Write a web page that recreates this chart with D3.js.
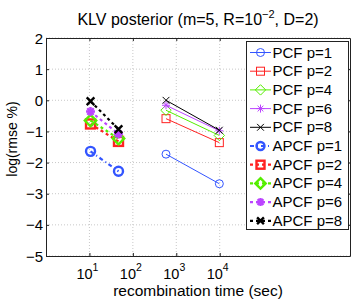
<!DOCTYPE html>
<html>
<head>
<meta charset="utf-8">
<script src="https://cdn.jsdelivr.net/npm/d3@7"></script>
<style>
body { margin: 0; background: #fff; }
text { font-family: "Liberation Sans", Arial, sans-serif; }
</style>
</head>
<body>
<script>
// data
var pValues = ["p=1", "p=2", "p=4", "p=6", "p=8"];
var colors = ["#3355ff", "#ff2222", "#55ee00", "#bb44ff", "#000000"];
var markers = ["circle", "square", "diamond", "star", "cross"];
var pcfTime = [580, 9800];
var apcfTime = [10.6, 46.7];
var pcfVals = [[-1.73, -2.68], [-0.59, -1.36], [-0.32, -1.13], [-0.16, -0.98], [0, -0.96]];
var apcfVals = [[-1.64, -2.28], [-0.76, -1.32], [-0.65, -1.23], [-0.36, -1.08], [-0.03, -0.93]];
var xTicks = [10, 100, 1000, 10000];
var yTicks = [-5, -4, -3, -2, -1, 0, 1, 2];

var margin = {top: 38, right: 7, bottom: 44, left: 46};
var width = 357 - margin.left - margin.right;
var height = 300 - margin.top - margin.bottom;

var xScale = d3.scaleLog().domain([1, 1e7]).range([0, width]);
var yScale = d3.scaleLinear().domain([-5, 2]).range([height, 0]);

var svg = d3.select("body").append("svg")
.attr("width", 357)
.attr("height", 300);

var g = svg.append("g")
.attr("transform", "translate(" + margin.left + "," + margin.top + ")");

// grid
g.selectAll(".vgrid").data(xTicks).enter().append("line")
.attr("x1", function(d){return xScale(d)}).attr("x2", function(d){return xScale(d)})
.attr("y1", 0).attr("y2", height)
.attr("stroke", "#c8c8c8").attr("stroke-width", 1).attr("stroke-dasharray", "1,2");
g.selectAll(".hgrid").data(yTicks).enter().append("line")
.attr("x1", 0).attr("x2", width)
.attr("y1", function(d){return yScale(d)}).attr("y2", function(d){return yScale(d)})
.attr("stroke", "#c8c8c8").attr("stroke-width", 1).attr("stroke-dasharray", "1,2");

// axes (ticks inward, box all round)
var xAxis = d3.axisBottom(xScale).tickValues(xTicks).tickSizeInner(-3).tickSizeOuter(0).tickFormat("");
g.append("g").attr("transform", "translate(0," + height + ")").call(xAxis);
g.append("g").call(d3.axisTop(xScale).tickValues(xTicks).tickSizeInner(-3).tickSizeOuter(0).tickFormat(""));
var yAxis = d3.axisLeft(yScale).tickValues(yTicks).tickSizeInner(-3).tickSizeOuter(0).tickFormat("");
g.append("g").call(yAxis);
g.append("g").attr("transform", "translate(" + width + ",0)")
.call(d3.axisRight(yScale).tickValues(yTicks).tickSizeInner(-3).tickSizeOuter(0).tickFormat(""));
g.selectAll(".domain").attr("stroke", "#222");
g.selectAll(".tick line").attr("stroke", "#222");

// tick labels
g.selectAll(".ylab").data(yTicks).enter().append("text")
.attr("x", -3).attr("y", function(d){return yScale(d) + 5.5})
.attr("text-anchor", "end").attr("font-size", 15)
.text(function(d){return d < 0 ? "\u2212" + Math.abs(d) : d});

var xl = g.selectAll(".xlab").data(xTicks).enter().append("text")
.attr("x", function(d){return xScale(d) - 2}).attr("y", height + 23)
.attr("text-anchor", "middle").attr("font-size", 14.5);
xl.append("tspan").text("10");
xl.append("tspan").attr("dy", -8).attr("font-size", 10.5).text(function(d){return Math.round(Math.log10(d))});

// titles
svg.append("text").attr("x", margin.left + width / 2).attr("y", 25)
.attr("text-anchor", "middle").attr("font-size", 16)
.html("KLV posterior (m=5, R=10<tspan dy='-7' font-size='11'>\u22122</tspan><tspan dy='7'>, D=2)</tspan>");
svg.append("text").attr("x", margin.left + width / 2) .attr("y", 296)
.attr("text-anchor", "middle").attr("font-size", 15.5)
.text("recombination time (sec)");
svg.append("text").attr("transform", "translate(17,139) rotate(-90)")
.attr("text-anchor", "middle").attr("font-size", 14)
.text("log(rmse %)");

function drawMarker(sel, type, x, y, color, sw, s) {
	if (type == "circle") {
		sel.append("circle").attr("cx", x).attr("cy", y).attr("r", s)
		.attr("fill", "none").attr("stroke", color).attr("stroke-width", sw);
	} else if (type == "square") {
		sel.append("rect").attr("x", x - s).attr("y", y - s).attr("width", 2 * s).attr("height", 2 * s)
		.attr("fill", "none").attr("stroke", color).attr("stroke-width", sw);
	} else if (type == "diamond") {
		var d = s + 1.2;
		sel.append("path").attr("d", "M" + x + "," + (y - d) + "L" + (x + d) + "," + y + "L" + x + "," + (y + d) + "L" + (x - d) + "," + y + "Z")
		.attr("fill", "none").attr("stroke", color).attr("stroke-width", sw);
	} else if (type == "star") {
		var q = s * 0.72;
		var p = "M" + (x - s) + "," + y + "H" + (x + s) + "M" + x + "," + (y - s) + "V" + (y + s) +
			"M" + (x - q) + "," + (y - q) + "L" + (x + q) + "," + (y + q) + "M" + (x - q) + "," + (y + q) + "L" + (x + q) + "," + (y - q);
		sel.append("path").attr("d", p).attr("fill", "none").attr("stroke", color).attr("stroke-width", sw);
	} else {
		var c = s * 0.85;
		sel.append("path").attr("d", "M" + (x - c) + "," + (y - c) + "L" + (x + c) + "," + (y + c) + "M" + (x - c) + "," + (y + c) + "L" + (x + c) + "," + (y - c))
		.attr("fill", "none").attr("stroke", color).attr("stroke-width", sw);
	}
}

var line = d3.line().x(function(d){return xScale(d[0])}).y(function(d){return yScale(d[1])});

// PCF: thin solid
for (var i = 0; i < pValues.length; i++) {
	var pts = pcfTime.map(function(t, j){return [t, pcfVals[i][j]]});
	g.append("path").attr("d", line(pts)).attr("fill", "none").attr("stroke", colors[i]).attr("stroke-width", 1);
	for (var j = 0; j < pts.length; j++) drawMarker(g, markers[i], xScale(pts[j][0]), yScale(pts[j][1]), colors[i], 1, 4);
}
// APCF: thick dashed
for (var i = 0; i < pValues.length; i++) {
	var pts = apcfTime.map(function(t, j){return [t, apcfVals[i][j]]});
	g.append("path").attr("d", line(pts)).attr("fill", "none").attr("stroke", colors[i]).attr("stroke-width", 2.2)
	.attr("stroke-dasharray", i == 0 ? "4,3,1,3" : "3,3");
	for (var j = 0; j < pts.length; j++) drawMarker(g, markers[i], xScale(pts[j][0]), yScale(pts[j][1]), colors[i], 2.4, 4.5);
}

// legend
var leg = svg.append("g");
leg.append("rect").attr("x", 246.5).attr("y", 41.5).attr("width", 102).attr("height", 188)
.attr("fill", "#fff").attr("stroke", "#222").attr("stroke-width", 1);
for (var k = 0; k < 10; k++) {
	var idx = k % 5, ap = k >= 5;
	var ly = 52.5 + k * 18.7;
	leg.append("line").attr("x1", 250).attr("x2", 271).attr("y1", ly).attr("y2", ly)
	.attr("stroke", colors[idx]).attr("stroke-width", ap ? 2.2 : 1)
	.attr("stroke-dasharray", ap ? (idx == 0 ? "4,3,1,3" : "3,3") : null);
	drawMarker(leg, markers[idx], 260.5, ly, colors[idx], ap ? 2.4 : 1, 4);
	leg.append("text").attr("x", 272.5).attr("y", ly + 5).attr("font-size", 15)
	.text((ap ? "APCF " : "PCF ") + pValues[idx]);
}
</script>
</body>
</html>
